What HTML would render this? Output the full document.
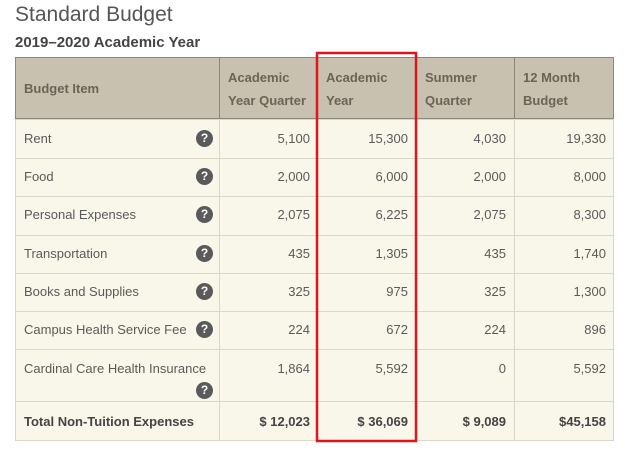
<!DOCTYPE html><html><head><style>
body{margin:0;width:624px;height:453px;background:#fff;font-family:"Liberation Sans",sans-serif;position:relative;overflow:hidden;color:#555}
.a{position:absolute}
.t{font-size:13px;color:#5a5a5a}
.h{font-size:13px;font-weight:bold;color:#6a6456;line-height:23px}
.q{width:17px;height:17px;border-radius:50%;background:#5a5a5a;color:#fff;font-weight:bold;font-size:12px;text-align:center;line-height:17px}
.r{text-align:right}
</style></head><body>
<div class="a" style="left:15px;top:3px;font-size:21px;color:#555">Standard Budget</div>
<div class="a" style="left:15px;top:34px;font-size:15px;font-weight:bold;color:#444">2019–2020 Academic Year</div>
<div class="a" style="left:15px;top:57px;width:599px;height:62px;background:#c9c1b0;border:1px solid #8d8778;box-sizing:border-box"></div>
<div class="a" style="left:15px;top:119px;width:599px;height:322px;background:#f9f6ea;border:1px solid #dcd6c6;box-sizing:border-box"></div>
<svg class="a" style="left:0;top:0" width="624" height="453">
<g stroke="#dcd6c6" stroke-width="1">
<line x1="15" x2="614" y1="158.5" y2="158.5"/><line x1="15" x2="614" y1="196.5" y2="196.5"/><line x1="15" x2="614" y1="235.5" y2="235.5"/><line x1="15" x2="614" y1="273.5" y2="273.5"/><line x1="15" x2="614" y1="311.5" y2="311.5"/><line x1="15" x2="614" y1="349.5" y2="349.5"/><line x1="15" x2="614" y1="401.5" y2="401.5"/>
<line x1="219.5" x2="219.5" y1="119" y2="441"/><line x1="416.5" x2="416.5" y1="119" y2="441"/><line x1="514.5" x2="514.5" y1="119" y2="441"/>
</g>
<g stroke="#8d8778"><line x1="219.5" x2="219.5" y1="57" y2="119"/><line x1="416.5" x2="416.5" y1="57" y2="119"/><line x1="514.5" x2="514.5" y1="57" y2="119"/></g>
<rect x="317" y="53" width="99" height="388" fill="none" stroke="#e0141b" stroke-width="2.5"/>
</svg>
<div class="a h" style="left:24px;top:77px">Budget Item</div>
<div class="a h" style="left:228px;top:66px">Academic<br>Year Quarter</div>
<div class="a h" style="left:326px;top:66px">Academic<br>Year</div>
<div class="a h" style="left:425px;top:66px">Summer<br>Quarter</div>
<div class="a h" style="left:523px;top:66px">12 Month<br>Budget</div>
<div id="rows"></div>
<script>
var d=[["Rent","5,100","15,300","4,030","19,330",139],["Food","2,000","6,000","2,000","8,000",177],["Personal Expenses","2,075","6,225","2,075","8,300",215],["Transportation","435","1,305","435","1,740",254],["Books and Supplies","325","975","325","1,300",292],["Campus Health Service Fee","224","672","224","896",330],["Cardinal Care Health Insurance","1,864","5,592","0","5,592",369]];
var h="";var R=[310,408,506,606];
d.forEach(function(r){var y=r[5];h+='<div class="a t" style="left:24px;top:'+(y-8)+'px">'+r[0]+'</div>';
var qy=r[0].indexOf("Cardinal")==0?382:y-9;h+='<div class="a q" style="left:196px;top:'+qy+'px">?</div>';
for(var i=0;i<4;i++)h+='<div class="a t r" style="right:'+(624-R[i])+'px;top:'+(y-8)+'px">'+r[i+1]+'</div>';});
var tt=["$ 12,023","$ 36,069","$ 9,089","$45,158"];
h+='<div class="a t" style="left:24px;top:414px;font-weight:bold;color:#444">Total Non-Tuition Expenses</div>';
for(var i=0;i<4;i++)h+='<div class="a t r" style="right:'+(624-R[i])+'px;top:414px;font-weight:bold;color:#444">'+tt[i]+'</div>';
document.getElementById("rows").innerHTML=h;
</script>
</body></html>
